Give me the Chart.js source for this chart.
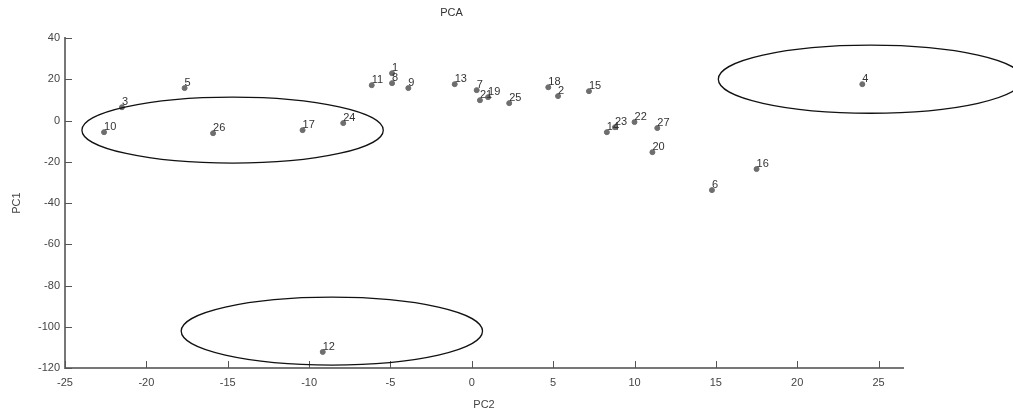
<!DOCTYPE html>
<html>
<head>
<meta charset="utf-8">
<script src="https://cdn.jsdelivr.net/npm/chart.js@4"></script>
<style>
  html, body { margin: 0; padding: 0; background: #fff; }
  #wrap { width: 1013px; height: 412px; }
</style>
</head>
<body>
<div id="wrap"><canvas id="pca"></canvas></div>
<script>
// sample numbers and their scores
const sampleLabels = ['1','2','3','4','5','6','7','8','9','10','11','12','13','14',
  '15','16','17','18','19','20','21','22','23','24','25','26','27'];
const pc2Values = [-4.9, 5.3, -21.5, 24.0, -17.65, 14.76, 0.3, -4.9, -3.9, -22.6, -6.15, -9.16, -1.05, 8.3,
  7.2, 17.5, -10.4, 4.7, 1.0, 11.1, 0.5, 10.0, 8.8, -7.9, 2.3, -15.9, 11.4];
const pc1Values = [23, 11.9, 6.5, 17.7, 15.8, -33.7, 14.8, 18.2, 15.8, -5.6, 17.2, -112.2, 17.7, -5.6,
  14.3, -23.5, -4.6, 16.2, 11.4, -15.3, 9.9, -0.7, -3.2, -1.2, 8.5, -6.1, -3.6];

// groups circled on the plot: centre (pc2, pc1) and radii
const ellipseCenterX = [-14.7, 24.5, -8.6];
const ellipseCenterY = [-4.6, 20.1, -102.1];
const ellipseRadiusX = [9.26, 9.35, 9.26];
const ellipseRadiusY = [16, 16.5, 16.5];

const xTicks = [-25, -20, -15, -10, -5, 0, 5, 10, 15, 20, 25];
const yTicks = [-120, -100, -80, -60, -40, -20, 0, 20, 40];

const points = pc2Values.map((x, i) => ({x: x, y: pc1Values[i]}));

const FONT = "'Liberation Sans', Arial, sans-serif";

// point labels, inward ticks and the ellipses
const extras = {
  id: 'extras',
  afterDraw(chart) {
    const ctx = chart.ctx;
    const xs = chart.scales.x, ys = chart.scales.y;
    const area = chart.chartArea;

    ctx.save();
    // inward ticks
    ctx.strokeStyle = '#555';
    ctx.lineWidth = 1;
    ctx.beginPath();
    xTicks.forEach(v => {
      const px = Math.round(xs.getPixelForValue(v)) + 0.5;
      ctx.moveTo(px, area.bottom);
      ctx.lineTo(px, area.bottom - 7);
    });
    yTicks.forEach(v => {
      const py = Math.round(ys.getPixelForValue(v)) + 0.5;
      ctx.moveTo(area.left, py);
      ctx.lineTo(area.left + 7, py);
    });
    ctx.stroke();

    // labels next to each point
    ctx.fillStyle = '#333';
    ctx.font = '11px ' + FONT;
    ctx.textAlign = 'left';
    ctx.textBaseline = 'middle';
    sampleLabels.forEach((lab, i) => {
      const px = xs.getPixelForValue(pc2Values[i]);
      const py = ys.getPixelForValue(pc1Values[i]);
      ctx.fillText(lab, px, py - 5);
    });

    // ellipses (not clipped, the right one runs off the axes)
    ctx.strokeStyle = '#111';
    ctx.lineWidth = 1.3;
    for (let i = 0; i < ellipseCenterX.length; i++) {
      const cx = xs.getPixelForValue(ellipseCenterX[i]);
      const cy = ys.getPixelForValue(ellipseCenterY[i]);
      const rx = Math.abs(xs.getPixelForValue(ellipseCenterX[i] + ellipseRadiusX[i]) - cx);
      const ry = Math.abs(ys.getPixelForValue(ellipseCenterY[i] + ellipseRadiusY[i]) - cy);
      ctx.beginPath();
      ctx.ellipse(cx, cy, rx, ry, 0, 0, Math.PI * 2);
      ctx.stroke();
    }
    ctx.restore();
  }
};

new Chart(document.getElementById('pca'), {
  type: 'scatter',
  data: {
    datasets: [{
      label: 'samples',
      data: points,
      backgroundColor: '#6e6e6e',
      borderColor: '#6e6e6e',
      pointRadius: 2.5,
      pointHoverRadius: 2.5
    }]
  },
  options: {
    responsive: true,
    maintainAspectRatio: false,
    animation: false,
    events: [],
    layout: {padding: {left: 0, right: 110, top: 0, bottom: 0}},
    plugins: {
      legend: {display: false},
      tooltip: {enabled: false},
      title: {
        display: true,
        text: 'PCA',
        color: '#333',
        font: {family: FONT, size: 11, weight: 'normal'},
        padding: {top: 6, bottom: 19}
      }
    },
    scales: {
      x: {
        type: 'linear',
        min: -25,
        max: 26.5,
        afterFit(scale) { scale.height = 44; },
        afterBuildTicks(scale) { scale.ticks = xTicks.map(v => ({value: v})); },
        border: {color: '#777', width: 2},
        grid: {display: false, drawTicks: false},
        ticks: {color: '#444', padding: 8, font: {family: FONT, size: 11}, maxRotation: 0},
        title: {display: true, text: 'PC2', color: '#444', font: {family: FONT, size: 11}, padding: {top: 0, bottom: 0}}
      },
      y: {
        type: 'linear',
        min: -120,
        max: 40,
        afterFit(scale) { scale.width = 65; },
        afterBuildTicks(scale) { scale.ticks = yTicks.map(v => ({value: v})); },
        border: {color: '#777', width: 2},
        grid: {display: false, drawTicks: false},
        ticks: {color: '#444', padding: 5, font: {family: FONT, size: 11}},
        title: {display: true, text: 'PC1', color: '#444', font: {family: FONT, size: 11}, padding: {top: 10, bottom: 0}}
      }
    }
  },
  plugins: [extras]
});
</script>
</body>
</html>
